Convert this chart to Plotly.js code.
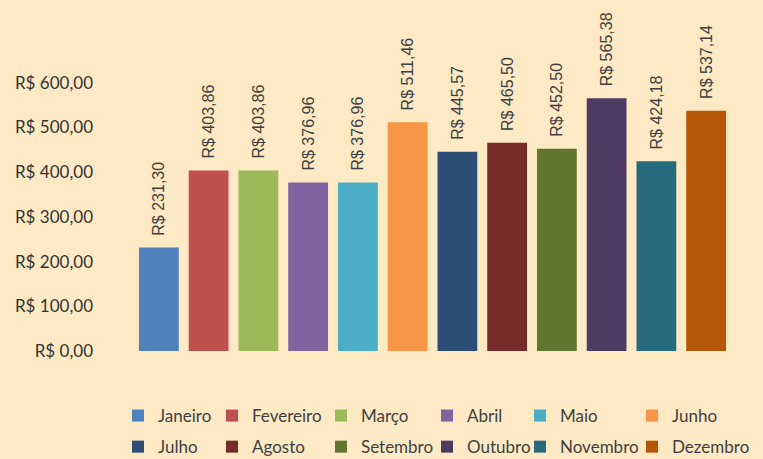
<!DOCTYPE html>
<html>
<head>
<meta charset="utf-8">
<script src="https://cdn.plot.ly/plotly-3.0.1.min.js"></script>
<style>html,body{margin:0;padding:0;background:#FDE9C4;}</style>
</head>
<body>
<div id="chart" style="width:763px;height:459px;"></div>
<script>
const months = ["Janeiro","Fevereiro","Março","Abril","Maio","Junho","Julho","Agosto","Setembro","Outubro","Novembro","Dezembro"];
const values = [231.30, 403.86, 403.86, 376.96, 376.96, 511.46, 445.57, 465.50, 452.50, 565.38, 424.18, 537.14];
const colors = ["#4F81BD","#C0504D","#9BBB59","#8064A2","#4BACC6","#F79646","#2C4D75","#772C2A","#5F7530","#4D3B62","#276A7C","#B65708"];
const tickValues = [0, 100, 200, 300, 400, 500, 600];
const tickLabels = ["R$ 0,00","R$ 100,00","R$ 200,00","R$ 300,00","R$ 400,00","R$ 500,00","R$ 600,00"];

function brl(v){ return "R$ " + v.toFixed(2).replace(".", ","); }

const legendNames = ["legend","legend2","legend3","legend4","legend5","legend6"];
const traces = months.map((m, i) => ({
  type: "bar",
  name: m,
  x: [m],
  y: [values[i]],
  marker: {color: colors[i]},
  text: ["\u00A0\u00A0" + brl(values[i])],
  textposition: "outside",
  textangle: -90,
  constraintext: "none",
  cliponaxis: false,
  textfont: {family: "Liberation Sans", size: 16, color: "#404040"},
  legend: legendNames[i % 6],
  legendgroup: m,
  hoverinfo: "skip"
}));

const legendX = [137, 231, 340, 446, 539, 651];
const L = 134, R = 32, T = 38, B = 108, W = 763, H = 459;
const plotW = W - L - R, plotH = H - T - B;
const baseLegend = (px) => ({
  x: (px - 19 - L) / plotW,
  xanchor: "left",
  y: (H - B - 398) / plotH,
  yanchor: "top",
  orientation: "v",
  bgcolor: "rgba(0,0,0,0)",
  font: {family: "Lato, sans-serif", size: 17, color: "#404040"},
  tracegroupgap: 6,
  traceorder: "grouped"
});

const layout = {
  width: W, height: H,
  margin: {l: L, r: R, t: T, b: B, autoexpand: false},
  paper_bgcolor: "#FDE9C4",
  plot_bgcolor: "#FDE9C4",
  barmode: "overlay",
  bargap: 0.2,
  showlegend: true,
  xaxis: {showticklabels: false, showgrid: false, zeroline: false, showline: false, ticks: ""},
  yaxis: {
    range: [0, 700],
    tickvals: tickValues,
    ticktext: tickLabels,
    showgrid: false, zeroline: false, showline: false,
    ticklabelstandoff: 40,
    tickfont: {family: "Lato, sans-serif", size: 17, color: "#333333"}
  },
  legend: baseLegend(legendX[0]),
  legend2: baseLegend(legendX[1]),
  legend3: baseLegend(legendX[2]),
  legend4: baseLegend(legendX[3]),
  legend5: baseLegend(legendX[4]),
  legend6: baseLegend(legendX[5])
};

Plotly.newPlot("chart", traces, layout, {displayModeBar: false, staticPlot: true});
</script>
</body>
</html>
